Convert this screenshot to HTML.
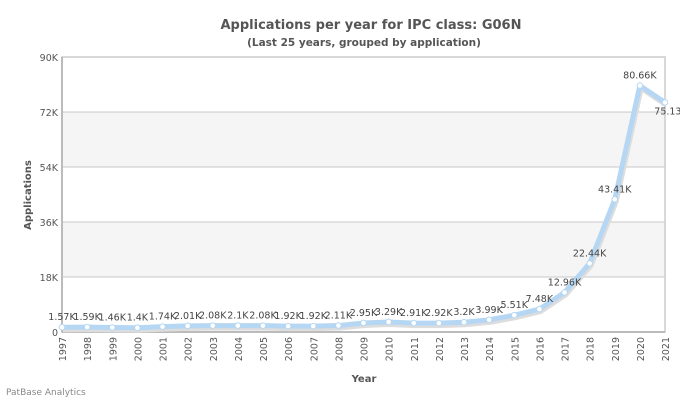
<!DOCTYPE html>
<html><head><meta charset="utf-8"><style>
html,body{margin:0;padding:0;background:#fff;}
svg{display:block;font-family:"DejaVu Sans","Liberation Sans",sans-serif;}
</style></head><body>
<svg id="chart" width="680" height="400">
<text x="371" y="29" text-anchor="middle" font-size="13" font-weight="bold" fill="#555">Applications per year for IPC class: G06N</text>
<text x="364" y="46" text-anchor="middle" font-size="10.5" font-weight="bold" fill="#555">(Last 25 years, grouped by application)</text>
<g id="grid"></g>
<g id="yticks"></g>
<g id="xticks"></g>
<text transform="translate(31,195) rotate(-90)" text-anchor="middle" font-size="10" font-weight="bold" fill="#555">Applications</text>
<text x="364" y="382" text-anchor="middle" font-size="10" font-weight="bold" fill="#555">Year</text>
<g id="series"></g>
<text x="6" y="395" font-size="9" fill="#888">PatBase Analytics</text>
</svg>
<script>
const years=[1997,1998,1999,2000,2001,2002,2003,2004,2005,2006,2007,2008,2009,2010,2011,2012,2013,2014,2015,2016,2017,2018,2019,2020,2021];
const values=[1570,1590,1460,1400,1740,2010,2080,2100,2080,1920,1920,2110,2950,3290,2910,2920,3200,3990,5510,7480,12960,22440,43410,80660,75130];
const valueLabels=["1.57K","1.59K","1.46K","1.4K","1.74K","2.01K","2.08K","2.1K","2.08K","1.92K","1.92K","2.11K","2.95K","3.29K","2.91K","2.92K","3.2K","3.99K","5.51K","7.48K","12.96K","22.44K","43.41K","80.66K","75.13K"];
const yTicks=[0,18000,36000,54000,72000,90000];
const yTickLabels=["0","18K","36K","54K","72K","90K"];
const NS="http://www.w3.org/2000/svg";
const L=62,R=665,T=57,B=332;
function x(i){return L+(R-L)*i/(years.length-1);}
function y(v){return B-(B-T)*v/90000;}
function mk(tag,attrs,parent){const e=document.createElementNS(NS,tag);for(const k in attrs)e.setAttribute(k,attrs[k]);parent.appendChild(e);return e;}
const grid=document.getElementById('grid');
for(let i=0;i<yTicks.length-1;i++){
  if(i%2===1){const r=mk('rect',{x:L,y:y(yTicks[i+1]),width:R-L,height:y(yTicks[i])-y(yTicks[i+1]),fill:'#f5f5f5'},grid);
  
  }
}
const yt=document.getElementById('yticks');
yTicks.forEach((v,i)=>{
  const ln=mk('line',{x1:L,x2:R,y1:y(v),y2:y(v),stroke:'#c8c8c8','stroke-width':1},grid);
  
  
  const t=mk('text',{x:L-4,y:y(v)+4,'text-anchor':'end','font-size':'9.5',fill:'#555'},yt);
  t.textContent=yTickLabels[i];
  
  
});
mk('rect',{x:L,y:T,width:R-L,height:B-T,fill:'none',stroke:'#ccc','stroke-width':1.5},grid);
mk('line',{x1:L,x2:L,y1:T,y2:B,stroke:'#bbb','stroke-width':2},grid);
mk('line',{x1:L,x2:R,y1:B,y2:B,stroke:'#bbb','stroke-width':2},grid);
const xt=document.getElementById('xticks');
years.forEach((yr,i)=>{
  const t=mk('text',{transform:`translate(${x(i)+4},337) rotate(-90)`,'text-anchor':'end','font-size':'9.5',fill:'#555'},xt);
  t.textContent=yr;
  
  
});
const s=document.getElementById('series');
const pts=values.map((v,i)=>x(i)+','+y(v)).join(' ');
mk('polyline',{points:values.map((v,i)=>(x(i)+1)+','+(y(v)+2)).join(' '),fill:'none',stroke:'#ddd','stroke-width':6,'stroke-linejoin':'round'},s);
const pl=mk('polyline',{points:pts,fill:'none',stroke:'#b5d7f3','stroke-width':5,'stroke-linejoin':'round'},s);


values.forEach((v,i)=>{
  const c=mk('circle',{cx:x(i),cy:y(v),r:2.8,fill:'#fff',stroke:'#b5d7f3','stroke-width':1},s);
  
  
  const last=i===values.length-1;
  const t=mk('text',{x:last?x(i)+6:x(i),y:last?y(v)+12:y(v)-7,'text-anchor':'middle','font-size':'9.5',fill:'#444'},s);
  t.textContent=valueLabels[i];
  
  
});
</script>
</body></html>
